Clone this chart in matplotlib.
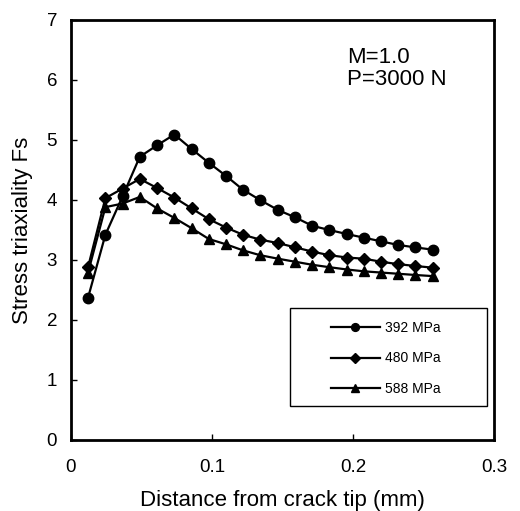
import matplotlib.pyplot as plt
from matplotlib.patches import Rectangle

plt.rcParams['font.family'] = ['Liberation Sans', 'DejaVu Sans']

# distance from crack tip (mm)
dist = [0.0121, 0.0244, 0.0366, 0.0488, 0.0610, 0.0733, 0.0855, 0.0977, 0.110, 0.122,
        0.134, 0.147, 0.159, 0.171, 0.183, 0.196, 0.208, 0.220, 0.232, 0.244, 0.257]

fs_392 = [2.37, 3.42, 4.06, 4.72, 4.91, 5.09, 4.85, 4.62, 4.40, 4.17,
          4.00, 3.83, 3.71, 3.57, 3.50, 3.43, 3.37, 3.31, 3.25, 3.21, 3.17]
fs_480 = [2.88, 4.03, 4.19, 4.35, 4.20, 4.04, 3.86, 3.68, 3.54, 3.42,
          3.34, 3.28, 3.21, 3.14, 3.08, 3.04, 3.02, 2.97, 2.93, 2.90, 2.87]
fs_588 = [2.79, 3.88, 3.94, 4.05, 3.86, 3.70, 3.53, 3.35, 3.26, 3.16,
          3.08, 3.02, 2.97, 2.92, 2.88, 2.84, 2.81, 2.79, 2.77, 2.75, 2.73]

labels = ["392 MPa", "480 MPa", "588 MPa"]

fig = plt.figure(figsize=(5.2, 5.11), dpi=100)
ax = fig.add_axes([0.1365, 0.139, 0.8135, 0.822])

ax.plot(dist, fs_392, '-o', color='black', lw=1.6, ms=7.5, label=labels[0])
ax.plot(dist, fs_480, '-D', color='black', lw=1.6, ms=6.5, label=labels[1])
ax.plot(dist, fs_588, '-^', color='black', lw=1.6, ms=7.5, label=labels[2])

ax.set_xlim(0, 0.3)
ax.set_ylim(0, 7)
ax.set_xticks([0, 0.1, 0.2, 0.3])
ax.set_xticklabels(["0", "0.1", "0.2", "0.3"])
ax.set_yticks(range(8))
ax.tick_params(direction='in', length=4, width=1, labelsize=13.5, pad=10)
ax.tick_params(axis='x', pad=14)
for s in ax.spines.values():
    s.set_linewidth(2)

ax.set_xlabel("Distance from crack tip (mm)", fontsize=16, labelpad=10)
ax.set_ylabel("Stress triaxiality Fs", fontsize=16, labelpad=10)

ax.text(0.196, 6.38, "M=1.0", fontsize=16, va='center')
ax.text(0.196, 6.0, "P=3000 N", fontsize=16, va='center')

# legend box drawn separately (wide side margins like the original)
ax.add_patch(Rectangle((0.518, 0.081), 0.465, 0.233, transform=ax.transAxes,
                       fill=False, edgecolor='black', lw=1, zorder=5))
leg = ax.legend(loc='center left', bbox_to_anchor=(0.615, 0.194), fontsize=10,
                frameon=False, markerscale=0.75, handlelength=3.5,
                labelspacing=1.2, borderpad=0, borderaxespad=0, handletextpad=0.4)

fig.savefig("out.png", dpi=100)
